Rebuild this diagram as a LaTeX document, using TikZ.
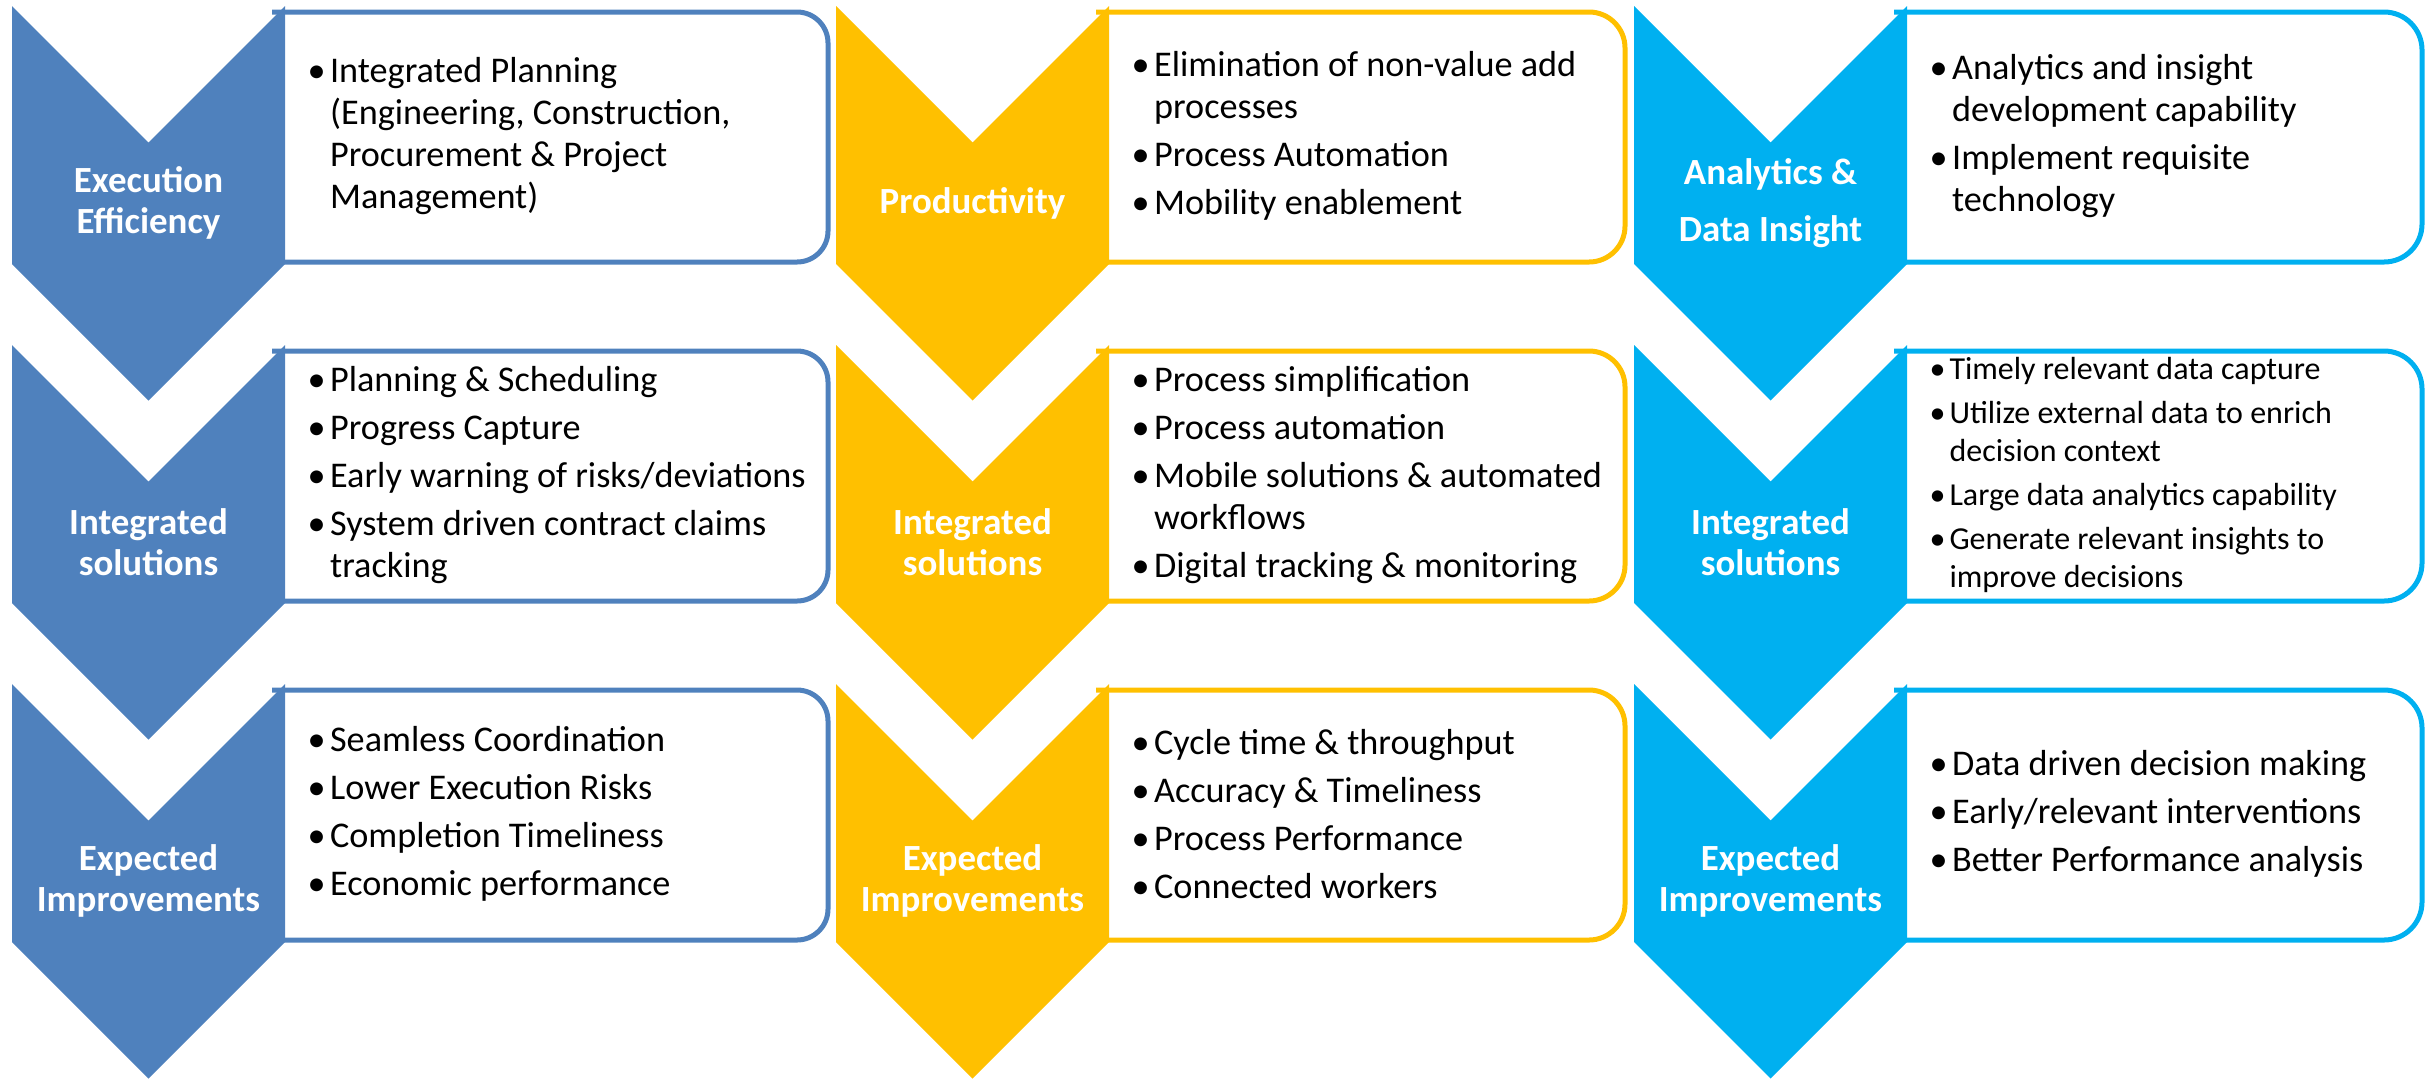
\documentclass[tikz,border=0pt]{standalone}
\usepackage{fontspec}
\setmainfont{Carlito}
\usepackage{xcolor}
\usepackage{tikz}
\usetikzlibrary{positioning}
\definecolor{execblue}{RGB}{79,129,189}
\definecolor{prodyellow}{RGB}{255,192,0}
\definecolor{datacyan}{RGB}{0,176,240}
\newcommand{\bul}{\makebox[0.62em][l]{\textbullet}}
\newcommand{\hng}{\hspace*{0.62em}}

\begin{document}
\begin{tikzpicture}[x=0.1mm,y=-0.1mm,
  chevlabel/.style={text=white,align=center,inner sep=0pt,
    font=\bfseries\fontsize{10.5}{11.7}\selectfont},
  itemlist/.style={anchor=west,align=left,inner sep=0pt,
    font=\fontsize{10.3}{11.9}\selectfont},
  smalllist/.style={itemlist,font=\fontsize{9.1}{10.8}\selectfont}]
\useasboundingbox (0,0) rectangle (2435,1078);
% chevrons and their boxes, three columns of three
\foreach \xl/\xr/\rad/\col in {12/828/3.1mm/execblue,836/1625/3.6mm/prodyellow,1634/2422/3.8mm/datacyan}{
  \foreach \yt in {6,345,684}{
    \draw[\col,line width=0.5mm,rounded corners=\rad] (\xl+260,\yt+6) -- (\xr,\yt+6) -- (\xr,\yt+256) -- (\xl+260,\yt+256);
    \fill[\col] (\xl,\yt) -- (\xl+136.5,\yt+136.5) -- (\xl+273,\yt) -- (\xl+273,\yt+258)
      -- (\xl+136.5,\yt+394.5) -- (\xl,\yt+258) -- cycle;
  }
}
% column 1
\node[chevlabel] (lab-exec) at (148.5,203) {Execution\\Efficiency};
\node[chevlabel] (lab-sol1) at (148.5,542) {Integrated\\solutions};
\node[chevlabel] (lab-imp1) at (148.5,881) {Expected\\Improvements};
\node[itemlist] (txt-exec) at (307,136) {\bul Integrated Planning\\ \hng(Engineering, Construction,\\ \hng Procurement \& Project\\ \hng Management)};
\node[itemlist] (txt-sol1) at (307,475) {\bul Planning \& Scheduling\\[1.7pt] \bul Progress Capture\\[1.7pt] \bul Early warning of risks/deviations\\[1.7pt] \bul System driven contract claims\\ \hng tracking};
\node[itemlist] (txt-imp1) at (307,814) {\bul Seamless Coordination\\[1.7pt] \bul Lower Execution Risks\\[1.7pt] \bul Completion Timeliness\\[1.7pt] \bul Economic performance};
% column 2
\node[chevlabel] (lab-prod) at (972.5,203) {Productivity};
\node[chevlabel] (lab-sol2) at (972.5,542) {Integrated\\solutions};
\node[chevlabel] (lab-imp2) at (972.5,881) {Expected\\Improvements};
\node[itemlist] (txt-prod) at (1131,136) {\bul Elimination of non-value add\\ \hng processes\\[1.7pt] \bul Process Automation\\[1.7pt] \bul Mobility enablement};
\node[itemlist] (txt-sol2) at (1131,475) {\bul Process simplification\\[1.7pt] \bul Process automation\\[1.7pt] \bul Mobile solutions \& automated\\ \hng workflows\\[1.7pt] \bul Digital tracking \& monitoring};
\node[itemlist] (txt-imp2) at (1131,814) {\bul Cycle time \& throughput\\[1.7pt] \bul Accuracy \& Timeliness\\[1.7pt] \bul Process Performance\\[1.7pt] \bul Connected workers};
% column 3
\node[chevlabel] (lab-data) at (1770.5,203) {Analytics \&\\[4.5pt]Data Insight};
\node[chevlabel] (lab-sol3) at (1770.5,542) {Integrated\\solutions};
\node[chevlabel] (lab-imp3) at (1770.5,881) {Expected\\Improvements};
\node[itemlist] (txt-data) at (1929,136) {\bul Analytics and insight\\ \hng development capability\\[1.7pt] \bul Implement requisite\\ \hng technology};
\node[smalllist] (txt-sol3) at (1929,475) {\bul Timely relevant data capture\\[1.7pt] \bul Utilize external data to enrich\\ \hng decision context\\[1.7pt] \bul Large data analytics capability\\[1.7pt] \bul Generate relevant insights to\\ \hng improve decisions};
\node[itemlist] (txt-imp3) at (1929,814) {\bul Data driven decision making\\[1.7pt] \bul Early/relevant interventions\\[1.7pt] \bul Better Performance analysis};
\end{tikzpicture}
\end{document}
